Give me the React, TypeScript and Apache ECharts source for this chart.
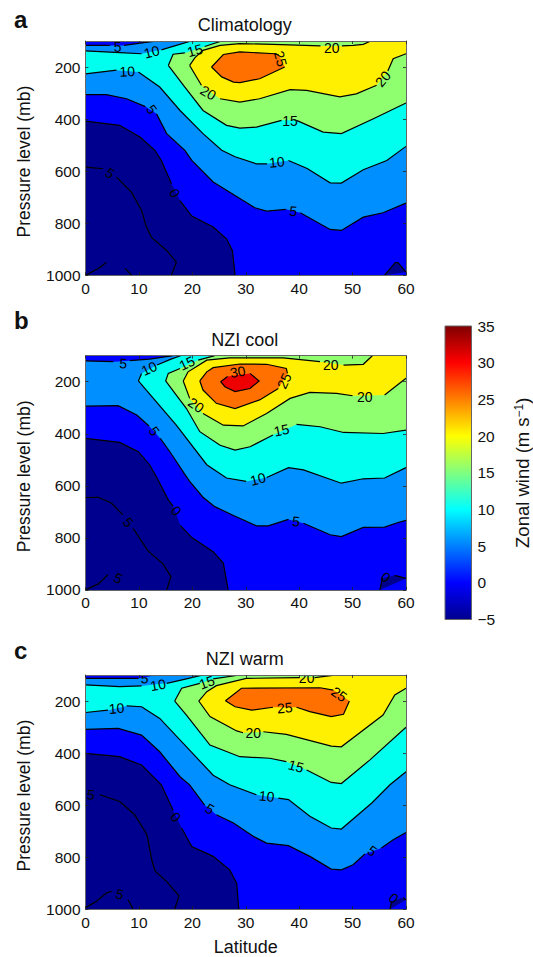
import React, { useEffect, useRef } from "react";
import * as echarts from "echarts";

type P = [number, number] | null;

// ---------- Band colours ----------
const bandBelow0 = "#00008f";
const band0to5 = "#0000ff";
const band5to10 = "#008fff";
const band10to15 = "#00ffef";
const band15to20 = "#8fff70";
const band20to25 = "#ffef00";
const band25to30 = "#ff7000";
const band30to35 = "#ef0000";

const latTicks = [0, 10, 20, 30, 40, 50, 60];
const pressureTicks = [200, 400, 600, 800, 1000];
const colorbarTicks = [-5, 0, 5, 10, 15, 20, 25, 30, 35];

// ---------- a: Climatology ----------
const aM5Up: P[] = [[0, 585], [3.3, 591], null, [5.8, 623], [8.6, 681], [10.5, 751], [11.4, 815], [12.4, 856], [15.2, 905], [17, 950], [16.1, 1000]];
const aM5Low: P[] = [[0, 1000], [2.4, 974], [3.9, 951], null, [7.4, 974], [8.6, 1000]];
const a0: P[] = [[0, 408], [6.4, 424], [10.2, 469], [13, 520], [14.2, 559], [16.1, 649], null, [17.7, 713], [19.9, 773], [23.9, 815], [26.4, 860], [27.5, 905], [28, 1000]];
const a0Patch: P[] = [[56, 1000], [58, 952], [58.5, 952], [60, 988]];
const a5Up: P[] = [[0, 117], [4.6, 117], null, [7.2, 117], [9.6, 110], [13.4, 100]];
const a5Low: P[] = [[0, 306], [3.9, 306], [7.7, 322], [11.2, 352], null, [13.3, 380], [15.2, 456], [18.6, 520], [19.9, 559], [23.9, 642], [31.7, 741], [33.9, 754], [37.5, 747], null, [40.2, 760], [45.8, 824], [47.9, 828], [52, 777], [55.7, 760], [60, 723]];
const a10Up: P[] = [[0, 138], [6.4, 145], [10.5, 149], null, [14.2, 134], [17, 117], [19.8, 100]];
const a10Low: P[] = [[0, 226], [5.8, 212], null, [9.9, 219], [13.9, 277], [17.7, 367], [22, 456], [25.5, 520], [28, 545], [32, 572], [34, 572], null, [38, 559], [41.5, 590], [45.8, 645], [47.9, 646], [52, 595], [56.4, 559], [60, 505]];
const a15Up: P[] = [[15.5, 194], [16.4, 151], [18.6, 146], null, [22.3, 121], [25.5, 100]];
const a15Low: P[] = [[15.5, 194], [18.6, 277], [22, 367], [26.4, 424], [28.9, 435], [32, 431], [36.7, 405], null, [39.5, 405], [44.5, 450], [47.9, 456], [53.9, 399], [60, 338]];
const a20Up: P[] = [[19.5, 194], [20.5, 164], [22, 136], [25.2, 117], [28.9, 110], [35.1, 113], [44, 119], null, [48, 119], [50.1, 117], [52, 113], [53.4, 100]];
const a20Low: P[] = [[19.5, 194], [21.7, 270], null, [25.2, 322], [28.9, 335], [32.6, 322], [38.3, 287], [41.4, 290], [47.6, 315], [50.7, 303], [54.5, 270], null, [56.6, 215], [57.6, 168], [60, 149]];
const a25: P[] = [[23.6, 200], [25.8, 152], [28.9, 142], [35.5, 149], [36.2, 155], null, [37.3, 200], [32.6, 245], [28.9, 260], [27.7, 258], [25.5, 238], [23.6, 200]];
const aLabels: [number, number, string, number][] = [
  [6, 123, "5", 0], [12.4, 142, "10", 15], [20.5, 136, "15", 15], [7.8, 217, "10", 3],
  [12.4, 363, "5", -55], [23, 299, "20", -30], [46.1, 126, "20", 0], [36.5, 168, "25", -75],
  [55.7, 245, "20", 50], [38.3, 408, "15", 0], [35.8, 565, "10", 5], [38.9, 754, "5", -5],
  [4.6, 608, "5", -35], [16.7, 685, "0", -60],
];

// ---------- b: NZI cool ----------
const bM5Up: P[] = [[0, 645], [2.4, 644], [4.9, 667], [7, 712], null, [8.9, 763], [11.7, 850], [14.5, 900], [16, 949], [15.2, 1000]];
const bM5Low: P[] = [[0, 1000], [2.4, 977], [4.2, 942], null];
const b0: P[] = [[0, 418], [6.4, 433], [9.9, 469], [12, 519], [13.4, 570], [15.5, 654], [16.4, 678], null, [17.8, 753], [19.9, 799], [23.9, 853], [25.8, 897], [26.7, 1000]];
const b0Patch: P[] = [[55.1, 1000], [55.6, 955], null, [57.9, 944], [60, 956]];
const b5Up: P[] = [[0, 120], [5.2, 123], null, [8.3, 119], [12, 113], [16.4, 100]];
const b5Low: P[] = [[0, 294], [6.1, 292], [9.6, 328], [11.9, 370], null, [14, 418], [15.8, 469], [18.6, 556], [19.5, 583], [22, 644], [24.2, 680], [27.7, 714], [32, 754], [34.2, 754], [38, 729], null, [40.8, 744], [45.8, 788], [47.9, 795], [52, 760], [56, 759], [58.5, 741], [60, 733]];
const b10Up: P[] = [[9.9, 197], [10.5, 168], null, [13.4, 136], [16, 113], [17.8, 100]];
const b10Low: P[] = [[9.9, 197], [17, 367], [22.7, 519], [26.4, 570], [30.1, 583], null, [33.9, 568], [38, 530], [40.8, 539], [47.9, 590], [52, 573], [56, 570], [60, 530]];
const b15Up: P[] = [[15, 197], [15.5, 168], [17.7, 149], null, [21.1, 117], [24.2, 100]];
const b15Low: P[] = [[15, 197], [18.9, 303], [21.4, 392], [25.2, 444], [28, 463], [30.8, 450], [35.1, 405], null, [39.5, 364], [43.9, 373], [48.3, 395], [55.7, 399], [60, 386]];
const b20Up: P[] = [[18.3, 197], [19.2, 162], [22.7, 117], [27, 108], [37, 108], [43.9, 123], null, [48.3, 136], [52, 133], [53.7, 100]];
const b20Low: P[] = [[18.3, 197], [19.5, 264], null, [22, 322], [25.8, 367], [29.5, 370], [33.9, 322], [38.3, 264], [42, 241], [47, 245], [50, 254], null, [56, 251], [60, 187]];
const b25: P[] = [[21.4, 197], [22.7, 162], [23.9, 146], [28.9, 132], [33.9, 133], [37.6, 149], [37.8, 168], null, [36.1, 226], [32.6, 270], [28, 303], [24.5, 283], [22, 232], [21.4, 197]];
const b30: P[] = [[25.3, 200], [26.6, 180], null, [30.8, 168], [32.5, 197], [30.8, 226], [28, 238], [26.1, 219], [25.3, 200]];
const bLabels: [number, number, string, number][] = [
  [7.1, 129, "5", -5], [11.9, 149, "10", 25], [19, 129, "15", 25], [20.7, 290, "20", -35],
  [28.5, 162, "30", 10], [37.2, 197, "25", 65], [45.9, 136, "20", 0], [52.3, 258, "20", 0],
  [36.7, 386, "15", 12], [12.9, 390, "5", -55], [32.3, 574, "10", 15], [39.4, 737, "5", -5],
  [8, 740, "5", -50], [17, 696, "0", -50], [6.1, 955, "5", -25], [56.2, 951, "0", -40],
];

// ---------- c: NZI warm ----------
const cM5Up: P[] = [[2.7, 560], [6.4, 586], [9.2, 637], [11.5, 714], [12.4, 810], [13, 853], [15.2, 894], [17.5, 949], [16.7, 1000]];
const cM5Low: P[] = [[0, 994], [2, 970], [3.9, 938], [4.9, 931], null, [8, 964], [8.9, 1000]];
const c0: P[] = [[0, 401], [6.4, 414], [10.5, 446], [13.6, 510], [14.2, 522], [16.4, 620], null, [18, 688], [19.9, 759], [23.9, 797], [27, 849], [28.3, 900], [28.7, 1000]];
const c0Patch: P[] = [[57, 1000], [57.3, 970], null, [59.5, 955], [60, 964]];
const c5Up: P[] = [[0, 113], [9.9, 113], null, [12.7, 103], [13.5, 100]];
const c5Low: P[] = [[0, 309], [6.1, 305], [10.5, 331], [13.9, 395], [17.7, 491], [19.5, 522], [22.3, 600], null, [24.5, 637], [27.7, 669], [31.4, 720], [33.9, 746], [38, 756], [42, 797], [46, 846], [47.9, 849], [50.1, 829], [52.3, 788], null, [55.4, 765], [57.6, 733], [60, 705]];
const c10Up: P[] = [[0, 138], [6.4, 145], [10.5, 142], null, [15.2, 132], [18.9, 115], [22, 100]];
const c10Low: P[] = [[0, 244], [4.2, 235], null, [7.7, 219], [10.5, 222], [13.9, 267], [18.3, 363], [23.9, 485], [27, 522], [32, 560], null, [36.1, 573], [38, 579], [42, 643], [46, 688], [47.9, 692], [53.6, 592], [57, 522], [60, 472]];
const c15Up: P[] = [[16.7, 200], [18, 151], [21.4, 132], null, [23.9, 115], [28.9, 100]];
const c15Low: P[] = [[16.7, 200], [18.9, 254], [23.3, 369], [28.9, 414], [34.5, 420], [37.6, 433], null, [41.4, 465], [46, 513], [47.9, 517], [53.2, 427], [60, 301]];
const c20Up: P[] = [[21.2, 200], [22.7, 164], [24.5, 141], [30.1, 113], [40.1, 110], null, [42.9, 110], [47, 100]];
const c20Low: P[] = [[21.2, 200], [23.3, 260], [28.3, 315], [29.5, 322], null, [33.3, 318], [37.6, 328], [46, 373], [47.9, 376], [55.7, 254], [57.9, 177], [60, 151]];
const c25: P[] = [[26.2, 199], [29.2, 151], [43.9, 149], [46.4, 158], null, [49.4, 200], [48.3, 251], [46, 260], [42, 241], [39.5, 224], null, [35.1, 224], [31.1, 235], [28, 222], [26.2, 199]];
const cLabels: [number, number, string, number][] = [
  [11.1, 113, "5", -5], [13.6, 138, "10", 10], [22.7, 128, "15", 20], [41.4, 110, "20", 0],
  [47.5, 174, "25", -35], [5.8, 228, "10", 5], [37.3, 226, "25", 5], [31.4, 322, "20", 0],
  [39.4, 450, "15", -15], [33.9, 566, "10", -5], [23.3, 614, "5", -30], [16.9, 646, "0", -50],
  [1, 560, "5", -5], [6.4, 942, "5", -15], [53.7, 776, "5", -35], [57.7, 958, "0", -40],
];

// ---------- Layout ----------
const GRID_LEFT = 85.5;
const GRID_W = 320.5;
const GRID_H = 234.2;
const GRID_TOPS = [41, 355.7, 675];
const TITLES = ["Climatology", "NZI cool", "NZI warm"];
const LETTERS = ["a", "b", "c"];
const LETTER_TOPS = [7, 308, 638];
const FONT = "Liberation Sans";

type Mark =
  | { kind: "fill"; pts: [number, number][]; color: string }
  | { kind: "line"; pts: [number, number][] }
  | { kind: "text"; pts: [number, number][]; text: string; rot: number };

const solid = (a: P[]) => a.filter((p) => p !== null) as [number, number][];
const region = (low: P[], corner: [number, number][], up: P[]) => [
  ...solid(low),
  ...corner,
  ...solid(up).reverse(),
];
const runs = (a: P[]) => {
  const out: [number, number][][] = [];
  let cur: [number, number][] = [];
  a.forEach((p) => {
    if (p === null) {
      if (cur.length > 1) out.push(cur);
      cur = [];
    } else cur.push(p);
  });
  if (cur.length > 1) out.push(cur);
  return out;
};

function buildMarks(
  fills: { pts: [number, number][]; color: string }[],
  lines: P[][],
  labels: [number, number, string, number][]
) {
  const marks: Mark[] = [];
  const frame: [number, number][] = [[0, 100], [60, 100], [60, 1000], [0, 1000]];
  marks.push({ kind: "fill", pts: frame, color: bandBelow0 });
  fills.forEach((f) => marks.push({ kind: "fill", pts: f.pts, color: f.color }));
  lines.forEach((l) => runs(l).forEach((r) => marks.push({ kind: "line", pts: r })));
  labels.forEach((l) =>
    marks.push({ kind: "text", pts: [[l[0], l[1]]], text: l[2], rot: l[3] })
  );
  return marks;
}

const TR: [number, number][] = [[60, 100]];
const belowRight: [number, number][] = [[60, 1000], [60, 100], [0, 100]];

const panelMarks: Mark[][] = [
  buildMarks(
    [
      { pts: [...solid(a0), ...belowRight], color: band0to5 },
      { pts: solid(a0Patch), color: bandBelow0 },
      { pts: region(a5Low, TR, a5Up), color: band5to10 },
      { pts: region(a10Low, TR, a10Up), color: band10to15 },
      { pts: region(a15Low, TR, a15Up), color: band15to20 },
      { pts: region(a20Low, TR, a20Up), color: band20to25 },
      { pts: solid(a25), color: band25to30 },
    ],
    [aM5Up, aM5Low, a0, a0Patch, a5Up, a5Low, a10Up, a10Low, a15Up, a15Low, a20Up, a20Low, a25],
    aLabels
  ),
  buildMarks(
    [
      { pts: [...solid(b0), ...belowRight], color: band0to5 },
      { pts: solid(b0Patch), color: bandBelow0 },
      { pts: region(b5Low, TR, b5Up), color: band5to10 },
      { pts: region(b10Low, TR, b10Up), color: band10to15 },
      { pts: region(b15Low, TR, b15Up), color: band15to20 },
      { pts: region(b20Low, TR, b20Up), color: band20to25 },
      { pts: solid(b25), color: band25to30 },
      { pts: solid(b30), color: band30to35 },
    ],
    [bM5Up, bM5Low, b0, b0Patch, b5Up, b5Low, b10Up, b10Low, b15Up, b15Low, b20Up, b20Low, b25, b30],
    bLabels
  ),
  buildMarks(
    [
      { pts: [...solid(c0), ...belowRight], color: band0to5 },
      { pts: solid(c0Patch), color: bandBelow0 },
      { pts: region(c5Low, TR, c5Up), color: band5to10 },
      { pts: region(c10Low, TR, c10Up), color: band10to15 },
      { pts: region(c15Low, TR, c15Up), color: band15to20 },
      { pts: region(c20Low, TR, c20Up), color: band20to25 },
      { pts: solid(c25), color: band25to30 },
    ],
    [cM5Up, cM5Low, c0, c0Patch, c5Up, c5Low, c10Up, c10Low, c15Up, c15Low, c20Up, c20Low, c25],
    cLabels
  ),
];

function buildOption() {
  const AXIS = { lineStyle: { color: "#666", width: 1 } };
  const TICK = { length: 3, inside: true, lineStyle: { color: "#222", width: 0.8 } };
  const grid: any[] = GRID_TOPS.map((top) => ({ left: GRID_LEFT, width: GRID_W, top, height: GRID_H, outerBoundsMode: "none" }));
  grid.push({ left: 445, width: 26.5, top: 326, height: 293.5, outerBoundsMode: "none" });

  const xAxis: any[] = [];
  const yAxis: any[] = [];
  const series: any[] = [];

  GRID_TOPS.forEach((_, g) => {
    const base = { type: "value", gridIndex: g, min: 0, max: 60, interval: 10, z: 10, splitLine: { show: false } };
    xAxis.push({
      ...base,
      position: "bottom",
      axisLine: { show: true, onZero: false, ...AXIS },
      axisTick: TICK,
      axisLabel: { color: "#111", fontSize: 15.5, fontFamily: FONT, margin: 5, customValues: latTicks, formatter: (v: number) => String(v) },
      name: g === 2 ? "Latitude" : "",
      nameLocation: "middle",
      nameGap: 29,
      nameTextStyle: { color: "#111", fontSize: 18, fontFamily: FONT },
    });
    xAxis.push({
      ...base,
      position: "top",
      axisLine: { show: true, onZero: false, ...AXIS },
      axisTick: TICK,
      axisLabel: { show: false },
    });
    const yBase = {
      type: "value",
      gridIndex: g,
      min: 100,
      max: 1000,
      inverse: true,
      z: 10,
      splitLine: { show: false },
    };
    yAxis.push({
      ...yBase,
      position: "left",
      axisLine: { show: true, onZero: false, ...AXIS },
      axisTick: { ...TICK, customValues: pressureTicks },
      axisLabel: { color: "#111", fontSize: 15.5, fontFamily: FONT, margin: 5, customValues: pressureTicks, formatter: (v: number) => String(v) },
      name: "Pressure level (mb)",
      nameLocation: "middle",
      nameGap: 53,
      nameRotate: 90,
      nameTextStyle: { color: "#111", fontSize: 17.5, fontFamily: FONT, padding: [0, 7, 0, 0] },
    });
    yAxis.push({
      ...yBase,
      position: "right",
      axisLine: { show: true, onZero: false, ...AXIS },
      axisTick: { ...TICK, customValues: pressureTicks },
      axisLabel: { show: false },
    });

    const marks = panelMarks[g];
    series.push({
      type: "custom",
      coordinateSystem: "cartesian2d",
      xAxisIndex: g * 2,
      yAxisIndex: g * 2,
      silent: true,
      clip: true,
      encode: { x: 0, y: 1 },
      data: marks.map((m, i) => [m.pts[0][0], m.pts[0][1], i]),
      renderItem: (params: any, api: any) => {
        const m = marks[params.dataIndex];
        if (m.kind === "fill") {
          return {
            type: "polygon",
            shape: { points: m.pts.map((p) => api.coord(p)) },
            style: { fill: m.color },
          };
        }
        if (m.kind === "line") {
          return {
            type: "polyline",
            shape: { points: m.pts.map((p) => api.coord(p)) },
            style: { fill: "none", stroke: "#000", lineWidth: 1.2 },
          };
        }
        const c = api.coord(m.pts[0]);
        return {
          type: "text",
          x: c[0],
          y: c[1],
          rotation: (m.rot * Math.PI) / 180,
          style: {
            text: m.text,
            fill: "#000",
            fontSize: 14,
            fontFamily: FONT,
            align: "center",
            verticalAlign: "middle",
          },
        };
      },
    });
  });

  // Colour bar
  xAxis.push({ type: "value", gridIndex: 3, min: 0, max: 1, show: false });
  yAxis.push({
    type: "value",
    gridIndex: 3,
    min: -5,
    max: 35,
    interval: 5,
    position: "right",
    z: 10,
    splitLine: { show: false },
    axisLine: { show: false },
    axisTick: { show: false },
    axisLabel: {
      color: "#111",
      fontSize: 15.5,
      fontFamily: FONT,
      margin: 6,
      customValues: colorbarTicks,
      formatter: (v: number) => (v < 0 ? "\u2212" + Math.abs(v) : String(v)),
    },
    name: "Zonal wind (m s{sup|\u22121})",
    nameLocation: "middle",
    nameGap: 41,
    nameRotate: 90,
    nameTextStyle: {
      color: "#111",
      fontSize: 18.5,
      fontFamily: FONT,
      rich: { sup: { fontSize: 12, verticalAlign: "top", fontFamily: FONT, color: "#111", padding: [0, 0, 6, 0] } },
    },
  });
  series.push({
    type: "custom",
    coordinateSystem: "cartesian2d",
    xAxisIndex: 6,
    yAxisIndex: 6,
    silent: true,
    encode: { x: 0, y: 1 },
    data: [[0, -5, 1, 35]],
    renderItem: (_: any, api: any) => {
      const a = api.coord([api.value(0), api.value(3)]);
      const b = api.coord([api.value(2), api.value(1)]);
      return {
        type: "rect",
        shape: { x: a[0], y: a[1], width: b[0] - a[0], height: b[1] - a[1] },
        style: {
          stroke: "#666",
          lineWidth: 1,
          fill: new echarts.graphic.LinearGradient(0, 1, 0, 0, [
            { offset: 0, color: "#00008f" },
            { offset: 0.125, color: "#0000ff" },
            { offset: 0.375, color: "#00ffff" },
            { offset: 0.625, color: "#ffff00" },
            { offset: 0.875, color: "#ff0000" },
            { offset: 1, color: "#800000" },
          ]),
        },
      };
    },
  });

  const title: any[] = [];
  TITLES.forEach((t, i) => {
    title.push({
      text: t,
      left: GRID_LEFT + GRID_W / 2 - 1,
      textAlign: "center",
      top: GRID_TOPS[i] - 25,
      padding: 0,
      textStyle: { color: "#111", fontSize: 18, fontWeight: "normal", fontFamily: FONT },
    });
    title.push({
      text: LETTERS[i],
      left: 14,
      top: LETTER_TOPS[i],
      padding: 0,
      textStyle: { color: "#111", fontSize: 24, fontWeight: "bold", fontFamily: FONT },
    });
  });

  return { animation: false, backgroundColor: "#fff", title, grid, xAxis, yAxis, series };
}

export default function App() {
  const ref = useRef<HTMLDivElement>(null);
  useEffect(() => {
    document.body.style.margin = "0";
    const chart = echarts.init(ref.current!, undefined, { renderer: "svg" });
    chart.setOption(buildOption() as any);
    return () => chart.dispose();
  }, []);
  return <div ref={ref} style={{ width: 533, height: 957 }} />;
}
